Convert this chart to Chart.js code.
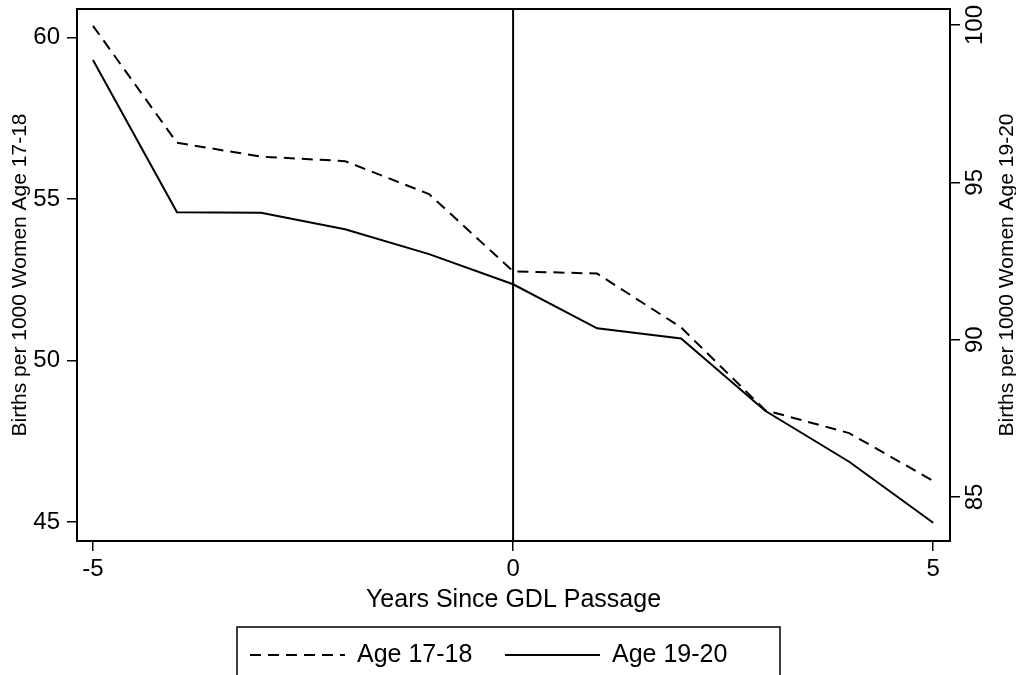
<!DOCTYPE html>
<html>
<head>
<meta charset="utf-8">
<script src="https://cdn.jsdelivr.net/npm/chart.js@4"></script>
<style>
  html, body { margin: 0; padding: 0; background: #fff; }
  #wrap { width: 1016px; height: 675px; }
</style>
</head>
<body>
<div id="wrap"><canvas id="c" width="1016" height="675"></canvas></div>
<script>
// ---- data ----
const years = [-5, -4, -3, -2, -1, 0, 1, 2, 3, 4, 5];
const age1718 = [60.36, 56.74, 56.31, 56.17, 55.15, 52.76, 52.69, 51.02, 48.46, 47.75, 46.27];
const age1920 = [98.89, 94.05, 94.03, 93.51, 92.72, 91.76, 90.36, 90.04, 87.74, 86.12, 84.18];
const xTicks = [-5, 0, 5];
const leftTicks = [45, 50, 55, 60];
const rightTicks = [85, 90, 95, 100];
const seriesLabels = ['Age 17-18', 'Age 19-20'];
const xTitle = 'Years Since GDL Passage';
const leftTitle = 'Births per 1000 Women Age 17-18';
const rightTitle = 'Births per 1000 Women Age 19-20';
const passageYear = 0;

const FONT = '"Liberation Sans", Arial, Helvetica, sans-serif';
const DASH = [11, 7];

function noPad(s) {
  s.paddingTop = 0; s.paddingBottom = 0; s.paddingLeft = 0; s.paddingRight = 0;
}

const framePlugin = {
  id: 'frameAndExtras',
  afterDraw(chart) {
    const ctx = chart.ctx;
    const a = chart.chartArea;
    const xs = chart.scales.x;
    const yr = chart.scales.y2;
    ctx.save();
    // vertical line at passage
    const xp = xs.getPixelForValue(passageYear);
    ctx.strokeStyle = '#000';
    ctx.lineWidth = 2;
    ctx.beginPath();
    ctx.moveTo(xp, a.top);
    ctx.lineTo(xp, a.bottom);
    ctx.stroke();
    // frame
    ctx.lineWidth = 2;
    ctx.strokeRect(a.left, a.top, a.right - a.left, a.bottom - a.top);
    // right tick labels, rotated
    ctx.fillStyle = '#000';
    ctx.font = '24px ' + FONT;
    ctx.textAlign = 'center';
    ctx.textBaseline = 'middle';
    rightTicks.forEach(v => {
      const y = yr.getPixelForValue(v);
      ctx.save();
      ctx.translate(a.right + 25, y);
      ctx.rotate(-Math.PI / 2);
      ctx.fillText(String(v), 0, 0);
      ctx.restore();
    });
    // right title
    ctx.font = '21px ' + FONT;
    ctx.save();
    ctx.translate(1007, (a.top + a.bottom) / 2);
    ctx.rotate(-Math.PI / 2);
    ctx.fillText(rightTitle, 0, 0);
    ctx.restore();
    // legend
    const ds = chart.data.datasets;
    ctx.lineWidth = 1.5;
    ctx.strokeRect(237, 627, 543, 60);
    ctx.font = '25px ' + FONT;
    ctx.textAlign = 'left';
    const ly = 655;
    const items = [{x0: 250, x1: 345, tx: 357}, {x0: 505, x1: 600, tx: 612}];
    items.forEach((it, i) => {
      ctx.lineWidth = 2;
      ctx.setLineDash(ds[i].borderDash || []);
      ctx.beginPath();
      ctx.moveTo(it.x0, ly);
      ctx.lineTo(it.x1, ly);
      ctx.stroke();
      ctx.setLineDash([]);
      ctx.fillText(ds[i].label, it.tx, ly);
    });
    ctx.restore();
  }
};

new Chart(document.getElementById('c'), {
  type: 'line',
  data: {
    datasets: [
      {
        label: seriesLabels[0],
        data: years.map((x, i) => ({x, y: age1718[i]})),
        yAxisID: 'y',
        borderColor: '#000',
        borderWidth: 2,
        borderDash: DASH,
        pointRadius: 0,
        tension: 0,
        fill: false
      },
      {
        label: seriesLabels[1],
        data: years.map((x, i) => ({x, y: age1920[i]})),
        yAxisID: 'y2',
        borderColor: '#000',
        borderWidth: 2,
        pointRadius: 0,
        tension: 0,
        fill: false
      }
    ]
  },
  options: {
    responsive: false,
    animation: false,
    devicePixelRatio: 1,
    layout: { padding: { top: 9, left: 0, right: 0, bottom: 0 } },
    plugins: { legend: { display: false }, tooltip: { enabled: false }, title: { display: false } },
    scales: {
      x: {
        type: 'linear',
        position: 'bottom',
        min: -5.19,
        max: 5.2,
        afterBuildTicks: s => { s.ticks = xTicks.map(v => ({value: v})); },
        afterFit: s => { s.height = 134; noPad(s); },
        grid: { display: true, drawOnChartArea: false, drawTicks: true, tickLength: 10, color: '#000', lineWidth: 1.5 },
        border: { display: false },
        ticks: { color: '#000', font: { family: FONT, size: 24 }, padding: 4, maxRotation: 0, autoSkip: false },
        title: { display: true, text: xTitle, color: '#000', font: { family: FONT, size: 25 }, padding: { top: 0, bottom: 60 } }
      },
      y: {
        type: 'linear',
        position: 'left',
        min: 44.41,
        max: 60.88,
        afterBuildTicks: s => { s.ticks = leftTicks.map(v => ({value: v})); },
        afterFit: s => { s.width = 77; noPad(s); },
        grid: { display: true, drawOnChartArea: false, drawTicks: true, tickLength: 10, color: '#000', lineWidth: 1.5 },
        border: { display: false },
        ticks: { color: '#000', font: { family: FONT, size: 24 }, padding: 7, autoSkip: false },
        title: { display: true, text: leftTitle, color: '#000', font: { family: FONT, size: 21 }, padding: { top: 8, bottom: 0 } }
      },
      y2: {
        type: 'linear',
        position: 'right',
        min: 83.60,
        max: 100.51,
        afterBuildTicks: s => { s.ticks = rightTicks.map(v => ({value: v})); },
        afterFit: s => { s.width = 66; noPad(s); },
        grid: { display: true, drawOnChartArea: false, drawTicks: true, tickLength: 10, color: '#000', lineWidth: 1.5 },
        border: { display: false },
        ticks: { display: false },
        title: { display: false }
      }
    }
  },
  plugins: [framePlugin]
});
</script>
</body>
</html>
